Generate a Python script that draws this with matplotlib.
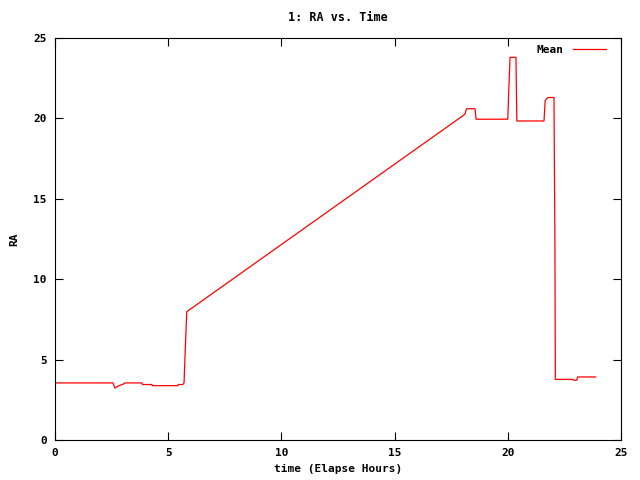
import matplotlib
matplotlib.use('Agg')
import matplotlib.pyplot as plt

# elapsed time (hours) and mean RA
time_hours = [0, 2.56, 2.65, 2.78, 3.05, 3.09, 3.84, 3.86, 4.28, 4.30, 5.43, 5.45,
              5.65, 5.70, 5.75, 5.82, 18.10, 18.18, 18.55, 18.60, 20.00, 20.05,
              20.10, 20.36, 20.40, 21.60, 21.65, 21.70, 21.78, 22.04, 22.08, 22.10,
              22.87, 22.90, 23.05, 23.08, 23.88]
ra_mean = [3.55, 3.55, 3.23, 3.35, 3.5, 3.55, 3.55, 3.45, 3.45, 3.38, 3.38, 3.45,
           3.45, 3.55, 5.5, 7.98, 20.25, 20.6, 20.6, 19.95, 19.95, 22.0,
           23.8, 23.8, 19.84, 19.84, 21.1, 21.2, 21.3, 21.3, 12.5, 3.77,
           3.77, 3.72, 3.72, 3.92, 3.92]

x_ticks = [0, 5, 10, 15, 20, 25]
y_ticks = [0, 5, 10, 15, 20, 25]

plt.rcParams['font.family'] = 'DejaVu Sans Mono'
plt.rcParams['font.weight'] = 'bold'
plt.rcParams['font.size'] = 8

fig = plt.figure(figsize=(6.4, 4.8), dpi=100)
ax = fig.add_axes([55 / 640, 40 / 480, 566 / 640, 402 / 480])

ax.plot(time_hours, ra_mean, color='red', linewidth=0.9, label='Mean')

ax.set_xlim(0, 25)
ax.set_ylim(0, 25)
ax.set_xticks(x_ticks)
ax.set_yticks(y_ticks)
ax.tick_params(direction='in', top=True, right=True, length=6, width=0.8, pad=6)
for s in ax.spines.values():
    s.set_linewidth(0.8)

ax.set_title('1: RA vs. Time', fontsize=8.5, fontweight='bold', pad=12)
ax.set_xlabel('time (Elapse Hours)', fontsize=8, fontweight='bold', labelpad=4)
ax.set_ylabel('RA', fontsize=8, fontweight='bold', labelpad=10)

leg = ax.legend(loc='upper right', frameon=False, handlelength=3.0,
                markerfirst=False, borderaxespad=0.2, handletextpad=0.8,
                bbox_to_anchor=(0.985, 1.0))

fig.savefig('out.png', dpi=100)
